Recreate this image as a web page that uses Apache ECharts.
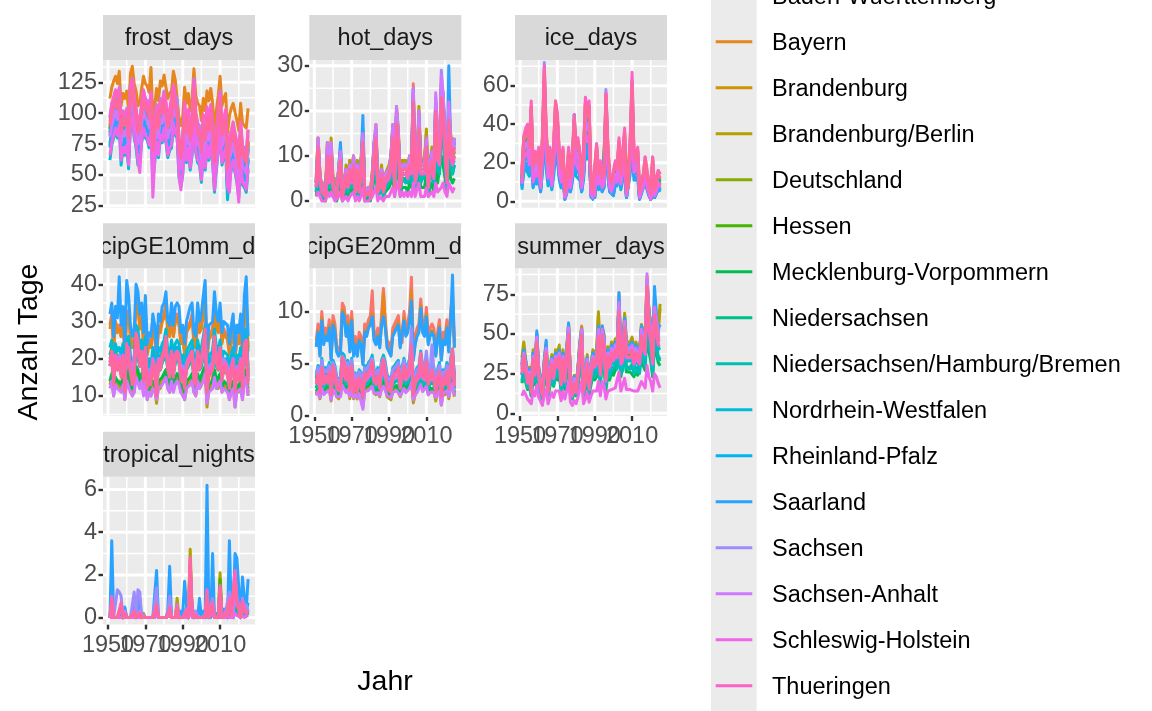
<!DOCTYPE html>
<html>
<head>
<meta charset="utf-8">
<title>Anzahl Tage je Klimaindikator</title>
<script src="https://cdn.jsdelivr.net/npm/echarts@6/dist/echarts.min.js"></script>
<style>
  html, body { margin: 0; padding: 0; background: #ffffff; }
  #chart { width: 1152px; height: 711px; }
</style>
</head>
<body>
<div id="chart"></div>
<script>
const regions = ['Baden-Wuerttemberg', 'Bayern', 'Brandenburg', 'Brandenburg/Berlin', 'Deutschland', 'Hessen',
  'Mecklenburg-Vorpommern', 'Niedersachsen', 'Niedersachsen/Hamburg/Bremen', 'Nordrhein-Westfalen',
  'Rheinland-Pfalz', 'Saarland', 'Sachsen', 'Sachsen-Anhalt', 'Schleswig-Holstein', 'Thueringen',
  'Thueringen/Sachsen-Anhalt'];

const years = [1951,1952,1953,1954,1955,1956,1957,1958,1959,1960,1961,1962,1963,1964,1965,1966,1967,1968,1969,1970,
  1971,1972,1973,1974,1975,1976,1977,1978,1979,1980,1981,1982,1983,1984,1985,1986,1987,1988,1989,1990,
  1991,1992,1993,1994,1995,1996,1997,1998,1999,2000,2001,2002,2003,2004,2005,2006,2007,2008,2009,2010,
  2011,2012,2013,2014,2015,2016,2017,2018,2019,2020,2021,2022,2023,2024,2025];

const panelNames = ['frost_days', 'hot_days', 'ice_days', 'precipGE10mm_days', 'precipGE20mm_days', 'summer_days', 'tropical_nights'];

const xLimits = [1947.3, 2028.7];
const xMajor = [1950, 1970, 1990, 2010];
const xMinor = [1960, 1980, 2000, 2020];

const yLimits = [[23.5, 143.1], [-1.5, 31.3], [-3.3, 73.3], [4.6, 44.3], [-0.05, 14.15], [-1.7, 91.4], [-0.32, 6.6]];
const yMajor = [[25, 50, 75, 100, 125], [0, 10, 20, 30], [0, 20, 40, 60], [10, 20, 30, 40], [0, 5, 10], [0, 25, 50, 75], [0, 2, 4, 6]];
const yMinor = [[37.5, 62.5, 87.5, 112.5, 137.5], [5, 15, 25], [10, 30, 50, 70], [5, 15, 25, 35], [2.5, 7.5, 12.5], [12.5, 37.5, 62.5, 87.5], [1, 3, 5]];

// one row per region, same order as regions, 1951..2025
const frostDays = [
  [93,104,107,113,109,117,87,99,93,101,83,118,125,108,100,87,90,103,115,109,106,101,111,74,88,102,93,108,104,114,104,92,97,100,118,110,108,77,68,79,104,89,97,82,95,123,96,89,85,72,94,82,99,91,103,88,63,82,96,112,86,92,97,58,77,83,88,80,72,61,88,70,68,64,82],
  [112,121,126,130,124,134,106,116,112,118,102,132,138,124,118,106,108,120,130,124,122,117,137,95,106,120,110,126,122,131,121,112,116,118,134,127,126,96,90,98,121,108,116,102,112,136,114,108,106,94,112,102,118,110,120,108,86,102,114,130,106,112,116,84,98,104,108,101,94,86,108,92,90,88,104],
  [90,98,105,112,104,114,84,94,88,96,80,116,121,103,95,84,85,100,110,104,101,95,106,69,83,99,87,104,101,110,99,88,93,95,114,106,104,71,63,73,100,84,94,78,89,120,92,83,81,67,90,77,96,85,98,83,59,77,92,111,81,88,94,53,71,77,84,75,67,55,83,65,63,59,77],
  [88,97,104,110,103,112,83,93,88,95,79,114,119,102,94,83,84,99,109,103,100,94,105,68,82,98,86,103,99,108,98,87,92,94,113,105,103,70,62,72,99,83,93,77,88,119,91,82,80,66,89,76,95,84,97,82,58,76,91,109,80,87,93,52,70,76,83,74,66,54,82,64,62,58,76],
  [85,95,100,106,100,108,80,90,86,92,76,110,116,100,92,80,82,96,106,100,98,92,104,66,80,95,84,100,96,106,96,84,90,92,110,102,100,68,60,70,96,80,90,74,86,116,88,80,78,64,86,74,92,82,94,80,56,74,88,106,78,84,90,50,68,74,80,72,64,52,80,62,60,56,74],
  [87,98,101,108,103,110,82,92,89,94,78,112,118,103,93,82,84,98,108,102,100,94,106,68,82,97,86,102,98,108,98,86,92,94,112,104,102,70,62,72,98,82,92,76,88,118,90,82,80,66,88,76,94,84,96,82,58,76,90,108,80,86,92,52,70,76,82,74,66,54,82,64,62,58,76],
  [84,92,99,104,97,107,77,88,83,90,73,108,115,97,89,77,79,94,104,98,95,89,101,63,77,92,81,98,94,104,94,81,88,90,108,100,98,65,57,67,93,77,87,71,83,114,85,77,75,61,83,71,90,79,91,77,53,71,86,104,75,81,88,47,65,71,78,69,61,49,77,59,57,53,71],
  [76,84,91,96,89,98,70,80,76,82,66,100,106,90,82,70,72,86,96,90,88,82,94,56,70,85,74,90,86,96,86,74,80,82,100,92,90,58,50,60,86,70,80,64,76,106,78,70,68,54,76,64,82,72,84,70,46,64,78,96,68,74,80,40,58,64,70,62,54,42,70,52,50,46,64],
  [74,83,90,95,88,97,69,79,75,81,65,99,105,89,81,69,71,85,95,89,87,81,93,55,69,84,73,89,85,95,85,73,79,81,99,91,89,57,49,59,85,69,79,63,75,105,77,69,67,53,75,63,81,71,83,69,45,63,77,95,67,73,79,39,57,63,69,61,53,41,69,51,49,45,63],
  [62,74,80,86,80,88,58,70,66,72,55,90,96,80,72,58,62,76,86,80,78,72,84,46,60,75,64,80,76,86,76,64,70,72,90,82,80,48,40,50,76,60,70,54,66,96,68,60,58,44,66,54,72,62,74,60,36,54,68,86,58,64,70,30,48,54,60,52,44,32,60,42,40,36,54],
  [82,94,98,104,99,106,79,88,85,90,74,108,114,98,90,78,80,94,104,98,96,90,102,64,78,93,82,98,94,104,94,82,88,90,108,100,98,66,58,68,94,78,88,72,84,114,86,78,76,62,84,72,90,80,92,78,54,72,86,104,76,82,88,48,66,72,78,70,62,50,78,60,58,54,72],
  [72,84,88,94,88,96,68,78,74,80,64,98,104,88,80,68,70,84,94,88,86,80,92,54,68,83,72,88,84,94,84,72,78,80,98,90,88,56,48,58,84,68,78,62,74,104,76,68,66,52,74,62,80,70,82,68,44,62,76,94,66,72,78,38,56,62,68,60,52,40,68,50,48,44,62],
  [97,107,113,118,112,121,92,102,98,104,88,122,128,112,104,92,94,108,118,112,110,104,116,78,92,107,96,112,108,118,108,96,102,104,122,114,112,80,72,82,108,92,102,86,98,128,100,92,90,76,98,86,104,94,106,92,68,86,100,118,90,96,102,62,80,86,92,84,76,64,92,74,72,68,86],
  [81,90,96,102,95,104,76,86,82,88,71,106,112,96,88,75,78,92,102,96,94,88,100,61,76,91,80,96,92,102,92,80,86,88,106,98,96,63,55,65,92,75,86,69,82,112,84,75,73,59,82,69,88,78,90,75,51,69,84,102,73,80,86,45,63,69,76,67,59,47,76,57,55,51,70],
  [66,76,82,88,82,90,62,72,68,74,58,92,98,82,74,62,52,78,88,82,80,74,86,32,62,77,66,82,78,88,78,66,72,74,92,84,82,50,38,52,78,62,72,56,68,98,70,62,60,46,68,56,74,64,76,62,38,56,70,88,60,66,72,40,36,56,62,54,46,28,62,44,42,38,56],
  [96,108,112,119,113,120,93,101,99,103,89,121,128,113,103,93,95,107,119,111,111,103,117,77,93,106,97,111,109,117,109,95,103,103,123,113,113,79,73,81,109,91,103,85,99,127,101,91,91,75,99,85,105,93,107,91,69,85,101,117,91,95,103,61,81,85,93,83,77,63,93,73,73,67,87],
  [90,100,104,110,104,112,84,94,90,96,80,114,120,104,96,84,86,100,110,104,102,96,108,70,84,99,88,104,100,110,100,88,94,96,114,106,104,72,64,74,100,84,94,78,90,120,92,84,82,68,90,78,96,86,98,84,60,78,92,110,82,88,94,54,72,78,84,76,68,56,84,66,64,60,78]
];

const hotDays = [
  [5,14,6,3,4,2,12,6,12,4,5,2,7,11,2,5,7,5,9,6,10,3,9,3,9,15,2,2,3,2,6,12,16,3,5,7,3,6,6,7,10,16,5,20,15,4,8,8,8,7,10,8,26,6,8,18,9,8,8,13,5,9,11,7,22,12,11,26,23,14,6,21,14,11,14],
  [3,11,5,2,2,1,10,5,10,3,4,1,6,9,1,3,6,4,7,5,8,2,7,2,7,12,1,1,2,1,5,10,13,2,3,6,2,5,5,6,8,13,4,16,12,3,7,7,7,6,8,7,22,5,7,15,7,7,7,11,4,7,9,6,19,10,9,20,18,11,5,18,11,9,12],
  [4,13,6,3,3,2,13,6,12,4,4,2,7,11,2,4,7,4,9,6,10,3,8,3,8,15,2,1,3,2,6,12,16,3,4,7,3,6,6,7,10,16,4,20,15,4,9,8,8,7,10,8,20,6,8,20,8,8,8,15,4,9,11,7,19,12,11,25,21,14,6,18,14,11,13],
  [5,14,6,3,3,2,13,6,14,5,5,2,7,12,2,4,8,5,9,6,10,3,9,3,9,16,2,2,3,2,6,13,17,3,5,8,3,6,6,8,10,17,5,21,16,4,9,9,9,7,10,9,21,6,9,21,9,9,9,16,5,9,12,7,20,13,12,26,22,15,6,19,15,12,14],
  [3,10,4,2,2,1,9,4,9,3,3,1,5,8,1,3,5,3,6,4,7,2,6,2,6,11,1,1,2,1,4,9,12,2,3,5,2,4,4,5,7,12,3,15,11,3,6,6,6,5,7,6,19,4,6,14,6,6,6,10,3,6,8,5,17,9,8,20,17,10,4,16,10,8,10],
  [4,11,4,2,2,1,10,4,10,3,3,1,6,9,1,3,6,3,7,4,8,2,7,2,7,13,1,1,2,1,4,10,14,2,3,5,2,4,4,6,8,13,3,17,12,3,7,7,7,6,8,7,22,4,7,16,7,7,7,11,3,7,9,6,20,10,9,22,20,11,4,18,11,9,11],
  [1,5,2,1,1,0,5,2,5,1,1,0,2,4,0,1,3,1,3,2,4,1,3,1,3,6,0,0,1,0,2,5,6,1,1,3,1,2,2,3,4,6,1,8,6,1,3,3,3,2,4,3,9,2,3,8,3,3,3,6,1,3,4,2,8,4,4,10,8,5,2,8,5,4,5],
  [2,8,3,1,1,1,7,3,7,2,2,1,4,6,1,2,4,2,5,3,5,1,5,1,5,9,1,1,1,1,3,7,10,1,2,4,1,3,3,4,5,9,2,12,9,2,5,5,5,4,5,5,15,3,5,11,5,5,5,8,2,5,6,4,13,7,6,16,14,8,3,13,8,6,8],
  [2,8,3,1,1,1,7,3,7,2,2,1,4,6,1,2,4,2,4,3,5,1,5,1,4,8,1,1,1,1,3,7,9,1,2,4,1,3,3,4,5,9,2,11,8,2,5,5,4,4,5,4,14,3,5,11,4,5,5,8,2,5,6,4,13,7,6,15,13,8,3,12,8,6,8],
  [3,10,4,2,2,1,8,4,8,3,3,1,5,8,1,3,5,3,6,4,7,2,6,2,6,11,1,1,2,1,4,9,11,2,3,5,2,4,4,5,6,11,3,14,10,3,6,6,6,5,7,6,18,4,6,13,6,6,6,9,3,6,8,5,16,9,8,18,17,10,4,15,9,8,9],
  [4,12,5,3,3,1,11,5,11,4,4,1,6,10,1,4,6,4,8,5,9,3,8,3,8,14,1,1,3,1,5,11,15,3,4,6,3,5,5,6,9,15,4,19,14,4,8,8,8,6,9,8,24,5,8,18,8,8,8,12,4,8,10,6,21,11,10,24,22,13,5,20,13,10,13],
  [4,12,5,3,3,1,11,5,11,4,4,1,7,13,1,4,7,4,8,5,9,3,8,3,8,19,1,1,3,1,5,13,14,3,4,7,3,5,5,7,9,16,4,19,14,4,8,8,8,7,9,8,25,5,8,19,8,8,8,13,4,8,11,7,23,12,11,25,24,13,5,30,13,11,14],
  [4,13,5,3,3,1,12,5,12,4,4,1,6,10,1,4,7,4,8,5,9,3,8,3,8,14,1,1,3,1,5,12,16,3,4,7,3,5,5,7,9,16,4,20,14,4,8,8,8,7,9,8,24,5,8,18,8,8,8,13,4,8,10,7,22,12,10,29,22,13,5,21,13,10,13],
  [4,14,6,3,3,1,13,6,13,4,4,1,7,11,1,4,7,4,8,6,10,3,8,3,8,15,1,1,3,1,6,13,17,3,4,7,3,6,6,7,10,17,4,21,15,4,8,8,8,7,10,8,25,6,8,20,8,8,8,14,4,8,11,7,24,13,11,28,24,14,6,22,14,11,14],
  [1,2,1,0,0,0,2,1,2,1,0,0,1,2,0,0,1,0,1,1,2,0,1,0,1,3,0,0,0,0,1,2,3,0,1,1,0,1,1,1,2,3,1,4,3,1,2,1,2,1,2,1,4,1,1,4,1,1,1,3,1,1,2,1,4,2,2,3,4,2,1,4,3,2,3],
  [3,10,4,2,2,1,9,4,9,3,3,1,5,8,1,3,5,3,6,4,7,2,6,2,6,11,1,1,2,1,4,9,12,2,3,5,2,4,4,5,7,12,3,15,11,3,6,6,6,5,7,6,19,4,6,14,6,6,6,10,3,6,8,5,17,9,8,21,17,10,4,16,10,8,10],
  [4,12,5,2,2,1,10,5,10,3,3,1,6,9,1,3,6,3,7,5,8,2,7,2,7,13,1,1,2,1,5,10,14,2,3,6,2,5,5,6,8,14,3,17,13,3,7,7,7,6,8,7,22,5,7,16,7,7,7,12,3,7,9,6,20,10,9,23,20,12,5,18,12,9,12]
];

const iceDays = [
  [13,27,30,34,25,44,15,20,18,24,10,28,60,32,17,23,12,25,43,38,21,15,23,4,9,23,11,19,36,25,27,21,10,21,45,38,42,6,4,6,25,13,17,11,13,50,25,10,9,8,17,15,27,13,21,31,5,7,27,54,21,19,23,4,9,11,19,13,8,3,19,6,9,13,11],
  [16,33,36,39,29,49,18,25,22,27,14,33,63,36,20,27,16,29,49,43,25,18,27,7,12,27,14,23,40,29,31,25,14,25,51,45,49,9,7,8,29,16,20,14,16,56,29,14,12,10,20,18,31,16,25,36,8,9,31,58,25,23,27,7,12,14,23,16,10,6,23,8,12,16,14],
  [11,27,30,33,24,43,13,20,16,22,9,27,64,30,15,22,11,24,43,38,20,13,22,3,7,22,9,18,39,24,26,20,9,20,45,39,43,5,3,4,24,11,15,9,11,51,24,9,7,6,16,13,26,11,20,30,4,5,26,56,20,18,22,3,7,9,18,11,6,2,18,4,7,11,9],
  [11,26,29,32,23,42,13,19,16,21,9,26,63,29,15,21,11,23,42,37,19,13,21,3,7,21,9,17,38,23,25,19,9,19,44,38,42,5,3,4,23,11,15,9,11,50,23,9,7,6,15,13,25,11,19,29,4,5,25,55,19,17,21,3,7,9,17,11,6,2,17,4,7,11,9],
  [10,25,28,30,22,40,12,18,15,20,8,25,60,28,14,20,10,22,40,35,18,12,20,2,6,20,8,16,34,22,24,18,8,18,42,36,40,4,2,3,22,10,14,8,10,48,22,8,6,5,14,12,24,10,18,28,3,4,24,52,18,16,20,2,6,8,16,10,5,1,16,3,6,10,8],
  [9,24,27,28,21,38,11,17,14,19,8,24,57,27,13,19,9,21,38,33,17,11,19,2,6,19,8,15,32,21,23,17,8,17,40,34,38,4,2,3,21,9,13,8,9,46,21,8,6,5,13,11,23,9,17,27,3,4,23,49,17,15,19,2,6,8,15,9,5,1,15,3,6,9,8],
  [12,27,30,32,24,42,14,20,17,22,10,27,62,30,16,22,12,24,42,37,20,14,22,4,8,22,10,18,45,24,26,20,10,20,44,38,42,6,4,5,24,12,16,10,12,50,24,10,8,7,16,14,26,12,20,30,5,6,26,54,20,18,22,4,8,10,18,12,7,3,18,5,8,12,10],
  [8,20,22,24,18,32,10,14,12,16,6,20,48,22,11,16,8,18,32,28,14,10,16,2,5,16,6,13,27,18,19,14,6,14,34,29,32,3,2,2,18,8,11,6,8,38,18,6,5,4,11,10,19,8,14,22,2,3,19,42,14,13,16,2,5,6,13,8,4,1,13,2,5,8,6],
  [8,20,22,24,18,32,10,14,12,16,6,20,48,22,11,16,8,17,32,28,14,10,16,2,5,16,6,13,27,18,19,14,6,14,33,29,32,3,2,2,17,8,11,6,8,38,18,6,5,4,11,10,19,8,14,22,2,3,19,41,14,13,16,2,5,6,13,8,4,1,13,2,5,8,6],
  [6,15,17,18,13,24,7,11,9,12,5,15,36,17,8,12,6,13,24,21,11,7,12,1,4,12,5,10,20,13,14,11,5,11,25,22,24,2,1,2,13,6,8,5,6,29,13,5,4,3,8,7,14,6,11,17,2,2,14,31,11,10,12,1,4,5,10,6,3,1,10,2,4,6,5],
  [8,21,24,26,19,34,10,15,13,17,7,21,51,24,12,17,8,19,34,30,15,10,17,2,5,17,7,14,29,19,20,15,7,15,36,31,34,3,2,3,19,8,12,7,8,41,19,7,5,4,12,10,20,8,15,24,3,3,20,44,15,14,17,2,5,7,14,8,4,1,14,3,5,8,7],
  [7,17,20,21,15,28,8,13,10,14,5,17,42,20,10,14,7,15,28,24,13,8,14,1,4,14,5,11,24,15,17,13,5,13,29,25,28,3,1,2,15,7,10,5,7,34,15,5,4,3,10,8,17,7,13,20,2,3,17,36,13,11,14,1,4,5,11,7,3,1,11,2,4,7,5],
  [15,32,35,38,28,49,17,24,20,26,12,32,72,35,19,26,14,28,49,43,24,17,26,5,10,26,12,21,42,28,31,24,12,24,51,44,49,8,5,6,28,14,19,12,14,58,28,12,10,9,19,17,31,14,24,35,6,8,31,63,24,21,26,5,10,12,21,14,9,4,21,6,10,14,12],
  [10,26,29,31,22,41,12,19,15,21,8,26,62,29,14,21,10,23,41,36,18,12,21,2,6,21,8,16,36,23,25,18,8,18,43,37,41,4,2,3,22,10,14,8,10,49,22,8,6,5,14,12,25,10,18,29,3,4,25,54,18,16,21,2,6,8,16,10,5,1,16,3,6,10,8],
  [9,22,24,26,19,34,10,15,13,17,7,22,52,24,12,17,8,19,34,30,15,10,17,2,5,17,7,14,34,19,20,15,7,15,36,31,34,3,2,3,19,9,12,7,9,41,19,7,5,4,12,10,20,9,15,24,3,3,20,44,15,14,17,2,5,7,14,8,4,1,14,3,5,9,7],
  [16,34,38,40,30,52,18,26,22,28,14,34,70,38,21,28,16,30,52,46,26,18,28,6,11,28,14,23,45,30,33,26,14,26,54,47,52,9,6,7,30,16,21,14,16,56,30,14,11,10,21,18,33,16,26,38,7,9,33,67,26,23,28,6,11,14,23,16,10,5,23,8,11,16,14],
  [14,32,35,38,28,49,17,24,20,26,12,32,68,35,19,26,14,28,52,43,24,17,26,5,10,26,12,21,42,28,31,24,12,24,51,44,50,8,5,6,28,14,19,12,14,55,28,12,10,9,19,17,31,14,24,35,6,8,31,62,24,21,26,5,10,12,21,14,9,4,21,6,10,14,12]
];

const precipGE10mmDays = [
  [29,32,23,30,28,29,26,30,22,32,33,26,23,25,36,35,29,32,25,33,22,25,23,29,26,20,29,28,30,32,35,28,26,32,26,30,32,30,25,26,22,28,29,30,32,25,23,32,28,29,33,36,20,26,26,28,35,29,28,32,25,28,28,26,22,26,29,20,26,25,29,22,33,35,23],
  [28,31,23,30,27,28,26,30,21,31,32,26,23,24,35,34,28,31,24,32,21,24,23,28,26,20,28,27,30,31,34,27,26,31,26,30,31,29,24,26,21,27,28,29,31,24,23,31,27,28,32,35,20,25,25,27,34,28,27,31,24,27,27,25,21,25,28,20,25,24,28,21,32,34,22],
  [14,15,11,14,13,14,12,15,10,15,16,12,11,12,17,17,14,15,12,16,10,12,11,14,13,10,14,13,15,15,17,13,12,15,12,15,15,15,12,12,10,13,14,15,15,12,11,15,13,14,16,17,10,12,13,13,17,14,13,15,12,13,13,12,10,13,14,10,12,12,14,10,16,17,11],
  [13,15,10,14,13,13,12,14,9,15,15,12,10,11,17,16,13,15,11,15,9,11,10,13,12,8,13,12,14,15,16,12,11,15,12,14,15,14,11,12,9,12,13,14,15,11,10,15,12,13,15,17,7,12,12,12,16,13,12,15,11,12,12,12,9,12,13,7,12,11,13,9,15,16,10],
  [20,22,16,21,19,20,18,21,15,22,23,18,16,17,25,24,20,22,17,23,15,17,16,20,18,14,20,19,21,22,24,19,18,22,18,21,22,21,17,18,15,19,20,21,22,17,16,22,19,20,23,25,14,18,18,19,24,20,19,22,17,19,19,18,15,18,20,14,18,17,20,15,23,24,16],
  [21,23,17,22,20,21,19,22,16,23,24,19,17,18,26,25,21,23,18,24,16,18,17,21,19,15,21,20,22,23,25,20,19,23,19,22,23,22,18,19,16,20,21,22,23,18,17,23,20,21,24,26,15,19,19,20,25,21,20,23,18,20,20,19,16,19,21,15,19,18,21,16,24,25,17],
  [14,16,12,15,14,14,13,15,11,16,17,13,12,12,18,17,14,16,12,17,11,12,12,14,13,10,14,14,15,16,17,14,13,16,13,15,16,15,12,13,11,14,14,15,16,12,12,16,14,14,17,18,10,13,13,14,17,14,14,16,12,14,14,13,11,13,14,10,13,12,14,11,17,17,12],
  [18,20,14,19,17,18,16,19,14,20,21,16,14,15,23,22,18,20,15,21,14,15,14,18,16,13,18,17,19,20,22,17,16,20,16,19,20,19,15,16,14,17,18,19,20,15,14,20,17,18,21,23,13,16,16,17,22,18,17,20,15,17,17,16,14,16,18,13,16,15,18,14,21,22,14],
  [18,20,15,19,17,18,16,19,13,20,21,16,15,15,22,22,18,20,15,21,13,15,15,18,16,12,18,17,19,20,22,17,16,20,16,19,20,19,15,16,13,17,18,19,20,15,15,20,17,18,21,22,13,16,16,17,22,18,17,20,15,17,17,16,13,16,18,13,16,15,18,13,21,22,15],
  [23,25,18,24,22,23,21,24,17,25,26,21,18,20,29,28,23,25,20,26,17,20,18,23,21,16,23,22,24,25,28,22,21,25,21,24,25,24,20,21,17,22,23,24,25,20,18,25,22,23,26,29,16,21,21,22,28,23,22,25,20,22,22,21,17,21,23,16,21,20,23,17,26,28,18],
  [21,22,17,21,20,20,18,22,15,23,24,18,16,18,26,24,20,23,17,23,15,18,16,21,18,14,21,19,21,23,24,19,18,23,18,21,23,21,17,19,15,19,21,21,23,17,16,23,19,21,23,26,14,18,19,19,25,20,19,22,17,19,20,18,15,18,21,14,18,17,21,15,24,24,16],
  [32,35,26,34,31,42,29,34,24,41,37,29,26,27,40,38,32,35,27,37,24,27,26,32,29,22,32,30,34,35,38,30,29,35,29,34,35,34,27,29,24,30,32,34,35,27,26,35,30,32,37,41,22,29,29,30,38,32,30,35,27,30,30,29,24,29,32,22,29,27,32,24,37,42,26],
  [20,21,17,20,19,21,19,20,15,21,22,18,17,17,24,24,21,21,17,22,16,17,16,20,18,15,20,19,20,22,23,19,18,21,18,21,22,21,17,18,16,19,20,21,22,18,17,21,19,20,23,26,15,18,18,19,24,21,19,23,17,20,19,18,15,18,20,14,18,17,20,15,22,23,16],
  [12,14,10,13,12,12,11,13,9,14,14,11,10,11,15,15,12,14,10,14,9,11,10,12,11,9,12,12,13,14,15,12,11,14,11,13,14,13,11,11,9,12,12,13,14,11,10,14,12,12,14,16,8,11,11,12,15,12,12,14,11,12,12,11,9,11,12,7,11,11,12,9,14,15,10],
  [19,21,15,20,18,19,17,20,14,21,22,17,15,16,24,23,19,21,16,22,14,16,15,19,17,13,19,18,20,21,23,18,17,21,17,20,21,20,16,17,14,18,19,20,21,16,15,21,18,19,22,24,13,17,17,18,23,19,18,21,16,18,18,17,14,17,19,13,17,16,19,14,22,23,15],
  [19,22,15,21,18,20,17,21,14,22,23,17,15,16,26,24,19,22,16,23,14,16,15,20,17,13,20,18,21,22,24,18,17,22,17,21,22,21,16,17,14,18,20,21,22,16,15,22,18,20,23,26,13,17,17,18,25,20,18,22,16,18,19,17,14,17,20,13,17,16,20,14,23,25,15],
  [18,22,13,20,17,19,15,20,11,24,24,16,13,14,27,25,18,22,14,23,12,14,13,19,16,10,19,17,20,22,26,17,15,22,15,20,22,20,14,15,12,17,19,20,22,14,13,22,17,19,24,28,11,15,16,17,26,19,17,23,14,17,18,15,12,16,19,11,16,14,19,12,24,25,13]
];

const precipGE20mmDays = [
  [7.2,8.8,6.4,10.0,7.4,8.4,7.8,9.2,5.8,9.6,8.8,6.6,6.2,6.8,10.8,10.4,8.4,9.6,6.6,10.0,6.4,7.6,6.2,8.0,7.6,5.4,8.8,8.4,9.2,9.6,12.0,8.0,7.6,8.4,7.2,9.6,12.2,9.2,7.2,7.0,6.2,8.4,8.8,9.2,9.6,7.2,7.0,10.0,8.4,8.8,10.0,13.3,5.8,7.6,8.4,8.8,11.2,8.8,8.4,10.4,7.6,8.4,8.8,8.4,6.2,8.0,9.2,5.8,8.0,7.6,9.2,6.8,10.0,11.6,7.0],
  [6.8,8.2,5.8,9.4,7.0,7.8,7.4,8.6,5.4,9.0,8.2,6.2,5.8,6.2,10.2,9.8,7.8,9.0,6.2,9.4,5.8,7.0,5.8,7.4,7.0,5.0,8.2,7.8,8.6,9.0,9.8,7.4,7.0,7.8,6.6,9.0,11.8,8.6,6.6,6.6,5.8,7.8,8.2,8.6,9.0,6.6,6.6,9.4,7.8,8.2,9.4,12.0,5.4,7.0,7.8,8.2,10.6,8.2,7.8,9.8,7.0,7.8,8.2,7.8,5.8,7.4,8.6,5.4,7.4,7.0,8.6,6.2,9.4,10.8,6.6],
  [2.1,2.5,1.8,2.9,2.2,2.4,2.3,2.6,1.7,2.8,2.5,1.9,1.8,1.9,3.1,3.0,2.4,2.8,1.9,2.9,1.8,2.2,1.8,2.3,2.2,1.6,2.5,2.4,2.6,2.8,3.0,2.3,2.2,2.4,2.0,2.8,3.0,2.6,2.0,2.0,1.8,2.4,2.5,2.6,2.8,2.0,2.0,2.9,2.4,2.5,2.9,3.5,1.7,2.2,2.4,2.5,3.2,2.5,2.4,3.0,2.2,2.4,2.5,2.4,1.8,2.3,2.6,1.7,2.3,2.2,2.6,1.9,2.9,3.4,2.0],
  [2.0,2.4,1.6,2.8,2.1,2.3,2.2,2.6,1.4,2.7,2.4,1.8,1.6,1.7,3.0,2.9,2.3,2.7,1.6,2.8,1.6,2.0,1.6,2.2,2.1,0.8,2.4,2.3,2.6,2.7,2.9,2.2,2.0,2.3,1.8,2.7,2.9,2.6,1.8,1.7,1.5,2.3,2.4,2.6,2.7,1.8,1.7,2.8,2.3,2.4,2.8,3.4,1.2,2.0,2.3,2.4,3.1,2.4,2.3,2.9,2.0,2.3,2.4,2.3,1.4,2.2,2.6,1.0,2.2,2.0,2.6,1.6,2.8,3.2,1.8],
  [3.5,4.2,3.0,4.8,3.6,4.0,3.8,4.4,2.8,4.6,4.2,3.2,3.0,3.2,5.2,5.0,4.0,4.6,3.2,4.8,3.0,3.6,3.0,3.8,3.6,2.6,4.2,4.0,4.4,4.6,5.0,3.8,3.6,4.0,3.4,4.6,5.0,4.4,3.4,3.4,3.0,4.0,4.2,4.4,4.6,3.4,3.4,4.8,4.0,4.2,4.8,5.8,2.8,3.6,4.0,4.2,5.4,4.2,4.0,5.0,3.6,4.0,4.2,4.0,3.0,3.8,4.4,2.8,3.8,3.6,4.4,3.2,4.8,5.6,3.4],
  [3.6,4.3,3.1,4.7,3.5,4.1,3.9,4.5,2.7,4.7,4.3,3.1,3.1,3.3,5.3,5.1,3.9,4.7,3.1,4.9,2.9,3.7,3.1,3.9,3.5,2.5,4.3,4.1,4.5,4.7,5.1,3.9,3.5,4.1,3.3,4.7,5.1,4.5,3.3,3.5,2.9,4.1,4.3,4.5,4.7,3.3,3.5,4.9,4.1,4.3,4.9,5.9,2.7,3.7,4.1,4.3,5.5,4.3,4.1,5.1,3.7,4.1,4.3,4.1,2.9,3.9,4.5,2.7,3.9,3.7,4.5,3.3,4.9,5.7,3.5],
  [2.3,2.7,2.0,3.1,2.3,2.6,2.5,2.9,1.8,3.0,2.7,2.1,2.0,2.1,3.4,3.3,2.6,3.0,2.1,3.1,2.0,2.3,2.0,2.5,2.3,1.7,2.7,2.6,2.9,3.0,3.3,2.5,2.3,2.6,2.2,3.0,3.3,2.9,2.2,2.2,2.0,2.6,2.7,2.9,3.0,2.2,2.2,3.1,2.6,2.7,3.1,3.8,1.8,2.3,2.6,2.7,3.5,2.7,2.6,3.3,2.3,2.6,2.7,2.6,2.0,2.5,2.9,1.8,2.5,2.3,2.9,2.1,3.1,3.6,2.2],
  [2.6,3.2,2.3,3.6,2.7,3.0,2.9,3.3,2.1,3.5,3.2,2.4,2.3,2.4,3.9,3.8,3.0,3.5,2.4,3.6,2.3,2.7,2.3,2.9,2.7,2.0,3.2,3.0,3.3,3.5,3.8,2.9,2.7,3.0,2.6,3.5,3.8,3.3,2.6,2.6,2.3,3.0,3.2,3.3,3.5,2.6,2.6,3.6,3.0,3.2,3.6,4.4,2.1,2.7,3.0,3.2,4.1,3.2,3.0,3.8,2.7,3.0,3.2,3.0,2.3,2.9,3.3,2.1,2.9,2.7,3.3,2.4,3.6,4.2,2.6],
  [2.7,3.2,2.3,3.7,2.7,3.0,2.9,3.3,2.1,3.5,3.2,2.4,2.3,2.4,4.0,3.8,3.0,3.5,2.4,3.6,2.3,2.7,2.3,2.9,2.7,2.0,3.2,3.0,3.3,3.5,3.8,2.9,2.7,3.0,2.6,3.5,3.8,3.3,2.6,2.6,2.3,3.0,3.2,3.3,3.5,2.6,2.6,3.6,3.0,3.2,3.6,4.4,2.1,2.7,3.0,3.2,4.1,3.2,3.0,3.8,2.7,3.0,3.2,3.0,2.3,2.9,3.3,2.1,2.9,2.7,3.3,2.4,3.6,4.3,2.6],
  [4.0,4.8,3.4,5.5,4.1,4.6,4.4,5.1,3.2,5.3,4.8,3.7,3.4,3.7,6.0,5.8,4.6,5.3,3.7,5.5,3.4,4.1,3.4,4.4,4.1,3.0,4.8,4.6,5.1,5.3,5.8,4.4,4.1,4.6,3.9,5.3,5.8,5.1,3.9,3.9,3.4,4.6,4.8,5.1,5.3,3.9,3.9,5.5,4.6,4.8,5.5,6.7,3.2,4.1,4.6,4.8,6.2,4.8,4.6,5.8,4.1,4.6,4.8,4.6,3.4,4.4,5.1,3.2,4.4,4.1,5.1,3.7,5.5,6.4,3.9],
  [3.7,4.4,3.2,5.0,3.8,4.2,4.0,4.6,2.9,4.8,4.4,3.4,3.2,3.4,5.5,5.3,4.2,4.8,3.4,5.0,3.2,3.8,3.2,4.0,3.8,2.7,4.4,4.2,4.6,4.8,5.3,4.0,3.8,4.2,3.6,4.8,5.3,4.6,3.6,3.6,3.2,4.2,4.4,4.6,4.8,3.6,3.6,5.0,4.2,4.4,5.0,6.1,2.9,3.8,4.2,4.4,5.7,4.4,4.2,5.3,3.8,4.2,4.4,4.2,3.2,4.0,4.6,2.9,4.0,3.8,4.6,3.4,5.0,5.9,3.6],
  [6.6,8.0,5.7,9.1,6.8,7.6,7.2,8.4,5.3,8.7,8.0,6.1,5.7,6.1,9.9,9.5,7.6,8.7,6.1,9.1,5.7,6.8,5.7,7.2,6.8,4.9,8.0,7.6,8.4,8.7,9.5,7.2,6.8,7.6,6.5,8.7,9.5,8.4,6.5,6.5,5.7,7.6,8.0,8.4,8.7,6.5,6.5,9.1,7.6,8.0,9.1,11.0,5.3,6.8,7.6,8.0,10.3,8.0,7.6,9.5,6.8,7.6,8.0,7.6,5.7,7.2,8.4,5.3,7.2,6.8,8.4,6.1,9.1,13.5,6.5],
  [3.9,4.6,3.3,5.3,4.0,4.4,4.2,4.8,3.1,5.1,4.6,3.5,3.3,3.5,5.7,5.5,4.4,5.1,3.5,5.3,3.3,4.0,3.3,4.2,4.0,2.9,4.6,4.4,4.8,5.1,5.5,4.2,4.0,4.4,3.7,5.1,5.5,4.8,3.7,3.7,3.3,4.4,4.6,4.8,5.1,3.7,3.7,5.3,4.4,4.6,5.3,8.4,3.1,4.0,4.4,4.6,5.9,4.6,4.4,6.2,4.0,4.4,6.8,4.4,3.3,4.2,4.8,3.1,4.2,4.0,4.8,3.5,5.3,6.2,3.7],
  [1.9,2.3,1.7,2.6,2.0,2.2,2.1,2.4,1.5,2.5,2.3,1.8,1.7,1.8,2.9,2.8,2.2,2.5,1.8,2.6,1.7,2.0,1.7,2.1,2.0,0.6,2.3,2.2,2.4,2.5,2.8,2.1,2.0,2.2,1.9,2.5,2.8,2.4,1.9,1.9,1.7,2.2,2.3,2.4,2.5,1.9,1.9,2.6,2.2,2.3,2.6,3.2,1.5,2.0,2.2,2.3,3.0,2.3,2.2,2.8,2.0,2.2,2.3,2.2,1.7,2.1,2.4,1.0,2.1,2.0,2.4,1.8,2.6,3.1,1.9],
  [3.0,3.6,2.6,4.1,3.1,3.4,3.2,3.7,2.4,3.9,3.6,2.7,2.6,2.7,4.4,4.3,3.4,3.9,2.7,4.1,2.6,3.1,2.6,3.2,3.1,2.2,3.6,3.4,3.7,3.9,4.3,3.2,3.1,3.4,2.9,3.9,4.3,3.7,2.9,2.9,2.6,3.4,3.6,3.7,3.9,2.9,2.9,4.1,3.4,3.6,4.1,4.9,2.4,3.1,3.4,3.6,4.6,3.6,3.4,4.3,3.1,3.4,3.6,3.4,2.6,3.2,3.7,2.4,3.2,3.1,3.7,2.7,4.1,4.8,2.9],
  [3.3,4.0,2.9,4.6,3.4,3.8,3.6,4.2,2.7,4.4,4.0,3.0,2.9,3.0,4.9,4.8,3.8,4.4,3.0,4.6,2.9,3.4,2.9,3.6,3.4,2.5,4.0,3.8,4.2,4.4,4.8,3.6,3.4,3.8,3.2,4.4,4.8,4.2,3.2,3.2,2.9,3.8,4.0,4.2,4.4,3.2,3.2,4.6,3.8,4.0,4.6,5.5,2.7,3.4,3.8,4.0,5.1,4.0,3.8,4.8,3.4,3.8,4.0,3.8,2.9,3.6,4.2,2.7,3.6,3.4,4.2,3.0,4.6,5.3,3.2],
  [3.0,4.0,2.2,4.6,3.0,3.6,3.2,4.2,2.0,4.8,4.0,2.6,2.4,2.6,5.6,5.0,3.4,4.6,2.4,4.8,2.2,3.0,2.2,3.6,3.0,1.8,4.0,3.6,4.2,4.4,5.2,3.4,3.0,3.8,2.6,4.6,5.4,4.2,2.6,2.6,2.2,3.6,4.0,4.2,4.6,2.6,2.6,4.8,3.6,4.0,4.8,6.8,2.0,3.0,3.6,4.0,6.0,3.8,3.6,5.2,3.0,3.6,4.4,3.6,2.2,3.2,4.2,1.8,3.2,3.0,4.2,2.6,4.8,6.4,2.8]
];

const summerDays = [
  [31,40,33,25,28,18,38,30,50,28,28,15,33,43,18,28,35,28,38,35,40,23,38,25,40,54,20,15,23,18,28,43,55,18,25,35,20,30,38,35,38,55,30,55,48,25,40,35,43,40,45,43,76,38,40,60,43,43,43,45,38,43,40,38,55,50,45,82,65,55,38,70,63,53,53],
  [24,30,26,18,22,13,30,24,38,22,22,11,25,33,14,22,27,22,28,27,31,18,29,19,31,40,16,12,18,14,22,33,42,14,20,28,16,24,29,28,30,42,24,40,36,20,31,28,33,32,36,34,62,30,32,46,34,34,33,36,30,34,32,30,44,38,36,62,50,42,30,54,50,42,42],
  [33,42,32,26,28,19,38,31,50,27,28,16,33,43,17,28,35,28,38,36,41,22,38,25,40,56,20,15,23,17,28,43,54,17,25,35,20,30,38,36,38,62,30,52,48,25,40,35,43,40,45,43,66,38,40,62,43,43,43,47,38,43,40,38,53,50,45,86,65,55,38,68,60,52,66],
  [35,45,34,27,29,20,40,32,46,29,29,17,34,45,18,29,37,29,40,38,43,23,40,26,42,56,21,16,24,18,29,45,54,18,26,37,21,31,40,38,40,64,31,54,50,26,42,37,45,42,47,45,68,39,42,63,45,45,45,48,39,45,42,39,56,52,47,84,66,56,39,70,62,54,69],
  [25,32,26,20,22,14,30,24,40,22,22,12,26,34,14,22,28,22,30,28,32,18,30,20,32,45,16,12,18,14,22,34,44,14,20,28,16,24,30,28,30,44,24,44,38,20,32,28,34,32,36,34,58,30,32,48,34,34,34,36,30,34,32,30,44,40,36,72,52,44,30,56,50,42,42],
  [28,35,29,22,24,15,33,26,44,24,24,13,29,37,15,24,31,24,33,31,35,20,33,22,35,50,18,13,20,15,24,37,48,15,22,31,18,26,33,31,33,48,26,48,42,22,35,31,37,35,40,37,64,33,35,53,37,37,37,40,33,37,35,33,48,44,40,76,57,48,33,62,55,46,46],
  [19,24,20,15,17,11,23,18,30,17,17,9,20,26,11,17,21,17,23,21,24,14,23,15,24,34,12,9,14,11,17,26,33,11,15,21,12,18,23,21,23,33,18,33,29,15,24,21,26,24,27,26,44,23,24,36,26,26,26,27,23,26,24,23,33,30,27,54,39,33,23,42,38,32,30],
  [21,27,22,17,19,12,26,20,34,19,19,10,22,29,12,19,24,19,26,24,27,15,26,17,27,38,14,10,15,12,19,29,37,12,17,24,14,20,26,24,26,37,20,37,32,17,27,24,29,27,31,29,49,26,27,41,29,29,29,31,26,29,27,26,37,34,31,61,44,37,26,48,43,36,34],
  [20,26,21,16,18,12,25,20,33,18,18,10,22,28,12,18,23,18,25,23,27,15,25,17,27,37,13,10,15,12,18,28,36,12,17,23,13,20,25,23,25,36,20,36,31,17,27,23,28,27,30,28,48,25,27,40,28,28,28,30,25,28,27,25,36,33,30,60,43,36,25,46,42,35,33],
  [24,31,25,19,21,14,29,23,39,21,21,12,25,33,14,21,27,21,29,27,31,17,29,19,31,44,15,12,17,14,21,33,43,14,19,27,15,23,29,27,29,43,23,43,37,19,31,27,33,31,35,33,56,29,31,47,33,33,33,35,29,33,31,29,43,39,35,70,50,43,29,54,48,41,40],
  [30,38,31,24,26,17,36,29,48,26,26,14,31,41,17,26,34,26,36,34,38,22,36,24,38,54,19,14,22,17,26,41,53,17,24,34,19,29,36,34,36,53,29,53,46,24,38,34,41,38,43,41,70,36,38,58,41,41,41,43,36,41,38,36,53,48,43,80,62,53,36,67,60,50,50],
  [31,40,33,25,28,18,38,30,52,28,28,15,33,46,18,28,35,28,38,35,40,23,38,25,40,57,20,15,23,18,28,43,52,18,25,35,20,30,38,35,38,55,30,55,48,25,40,35,43,40,45,43,76,38,40,60,43,43,43,45,38,43,40,38,55,50,45,78,65,55,38,80,63,53,56],
  [29,37,30,23,25,16,35,28,46,25,25,14,30,39,16,25,32,25,35,32,37,21,35,23,37,52,18,14,21,16,25,39,51,16,23,32,18,28,35,32,35,51,28,51,44,23,37,32,39,37,41,39,67,35,37,55,39,39,39,41,35,39,37,35,51,46,41,83,60,51,35,64,58,48,48],
  [30,38,31,24,26,17,36,29,48,26,26,14,31,41,17,26,34,26,36,34,38,22,36,24,38,54,19,14,22,17,26,41,53,17,24,34,19,29,36,34,36,53,29,53,46,24,38,34,41,38,43,41,70,36,38,58,41,41,41,43,36,41,38,36,53,48,43,88,62,53,36,67,60,50,50],
  [11,14,12,9,10,6,14,11,18,10,10,5,12,15,6,10,13,10,14,13,14,8,14,9,14,20,7,5,8,6,10,15,20,6,9,13,7,11,14,13,14,20,11,20,17,9,14,13,15,14,16,15,26,14,14,22,15,15,15,16,14,15,14,14,20,18,16,30,23,20,14,25,23,19,16],
  [25,33,26,19,22,13,31,24,41,22,22,11,26,35,13,22,29,22,31,29,33,18,31,20,33,46,15,11,18,13,22,35,45,13,20,29,15,24,31,29,31,45,24,45,39,20,33,29,35,33,37,35,59,31,33,49,35,35,35,37,31,35,33,31,45,41,37,73,53,45,31,57,51,43,43],
  [27,36,28,21,24,14,34,26,45,24,24,12,28,38,14,24,31,24,34,31,36,19,34,22,36,50,17,12,19,14,24,38,49,14,22,31,17,26,34,31,34,49,26,49,42,22,36,31,38,36,40,38,64,34,36,54,38,38,38,40,34,38,36,34,49,44,40,80,58,49,34,62,55,46,46]
];

const tropicalNights = [
  [0,0.4,0,0,0,0,0.1,0,0.2,0,0,0,0,0.2,0,0,0.1,0,0,0,0,0,0,0,0,0.6,0,0,0,0,0,0.1,0.5,0,0,0,0,0,0.1,0,0.1,0.3,0,0.8,0.2,0,0,0,0,0,0.1,0,1.2,0,0,0.6,0,0,0,0.4,0,0.1,0.2,0,0.8,0.1,0.1,0.6,0.8,0.5,0,0.7,0.4,0.2,0.3],
  [0,0.2,0,0,0,0,0.1,0,0.1,0,0,0,0,0.1,0,0,0,0,0,0,0,0,0,0,0,0.3,0,0,0,0,0,0,0.3,0,0,0,0,0,0,0,0,0.2,0,0.5,0.1,0,0,0,0,0,0,0,0.7,0,0,0.3,0,0,0,0.3,0,0.1,0.1,0,0.5,0.1,0.1,0.4,0.5,0.3,0,0.4,0.3,0.1,0.2],
  [0,0.3,0,0,0,0,0.4,0,0.3,0,0,0,0,0.3,0,0,0.2,0,0.1,0,0,0,0,0,0,0.4,0,0,0,0,0,0.2,0.4,0,0,0,0.6,0,0,0,0,0.4,0,2.6,0.3,0,0.2,0,0,0,0,0.1,0.5,0,0,0.5,0,0,0,1.6,0,0,0.1,0.2,0.3,0.2,0.1,0.8,0.5,0.3,0,0.5,0.2,0.3,0.2],
  [0,0.3,0,0,0,0,0.5,0,0.3,0,0,0,0,0.3,0,0,0.2,0,0.2,0,0,0,0,0,0,0.5,0,0,0,0,0,0.2,0.4,0,0,0,0.9,0,0,0,0,0.5,0,3.2,0.4,0,0.3,0,0,0,0,0.1,0.6,0,0,0.6,0,0,0,2.1,0,0,0.2,0.3,0.4,0.2,0.1,1.0,0.6,0.4,0,0.6,0.3,0.3,0.4],
  [0,0.3,0,0,0,0,0.2,0,0.1,0,0,0,0,0.1,0,0,0.1,0,0,0,0,0,0,0,0,0.3,0,0,0,0,0,0.1,0.2,0,0,0,0.2,0,0,0,0,0.2,0,0.9,0.2,0,0.1,0,0,0,0,0,0.7,0,0,0.4,0,0,0,0.6,0,0,0.1,0.1,0.4,0.1,0.1,0.5,0.4,0.3,0,0.4,0.2,0.1,0.2],
  [0,0.3,0,0,0,0,0.2,0,0.1,0,0,0,0,0.2,0,0,0.1,0,0,0,0,0,0,0,0,0.4,0,0,0,0,0,0.1,0.3,0,0,0,0.2,0,0,0,0,0.2,0,1.0,0.2,0,0.1,0,0,0,0,0,0.9,0,0,0.5,0,0,0,1.8,0,0,0.1,0.2,0.6,0.1,0.1,0.5,0.6,0.4,0,0.6,0.3,0.1,0.3],
  [0,0.1,0,0,0,0,0.1,0,0,0,0,0,0,0,0,0,0,0,0,0,0,0,0,0,0,0.2,0,0,0,0,0,0,0.1,0,0,0,0.2,0,0,0,0,0.1,0,0.9,0.1,0,0.1,0,0,0,0,0,0.2,0,0,0.3,0,0,0,0.8,0,0,0.1,0.2,0.1,0.1,0,0.4,0.2,0.1,0,0.2,0.1,0.1,0.4],
  [0,0.1,0,0,0,0,0.1,0,0.1,0,0,0,0,0.1,0,0,0,0,0,0,0,0,0,0,0,0.2,0,0,0,0,0,0,0.2,0,0,0,0.1,0,0,0,0,0.1,0,0.6,0.1,0,0,0,0,0,0,0,0.4,0,0,0.3,0,0,0,0.4,0,0,0.1,0.1,0.2,0.1,0,0.3,0.3,0.2,0,0.3,0.1,0.1,0.2],
  [0,0.1,0,0,0,0,0.1,0,0.1,0,0,0,0,0.1,0,0,0,0,0,0,0,0,0,0,0,0.2,0,0,0,0,0,0,0.2,0,0,0,0.1,0,0,0,0,0.1,0,0.6,0.1,0,0,0,0,0,0,0,0.4,0,0,0.3,0,0,0,0.4,0,0,0.1,0.1,0.2,0.1,0,0.3,0.3,0.2,0,0.3,0.1,0.1,0.3],
  [0,0.3,0,0,0,0,0.1,0,0.1,0,0,0,0,0.2,0,0,0.1,0,0,0,0,0,0,0,0,0.4,0,0,0,0,0,0.1,0.3,0,0,0,0,0,0.1,0,0,0.2,0,0.5,0.3,0,0,0,0,0,0,0,0.8,0,0,0.6,0,0,0,0.3,0,0.1,0.1,0,0.7,0.1,0.1,0.5,0.7,0.4,0,0.6,0.3,0.1,0.3],
  [0,1.2,0,0,0,0,0.2,0,0.3,0,0,0,0,0.4,0,0,0.2,0,0,0,0,0,0,0,0,0.9,0,0,0,0,0,0.2,1.0,0,0,0,0.1,0,0.2,0.1,0.3,0.4,0,1.2,0.4,0,0.1,0,0,0,0.2,0,2.5,0,0,1.2,0,0,0,0.5,0,0.2,0.3,0,1.5,0.2,0.3,1.2,1.2,1.0,0,1.1,0.6,0.3,0.7],
  [0,3.6,0,0,0,0,0.3,0,0.5,0,0,0,0,0.6,0,0,0.9,0,0,0,0,0,0,0,0,2.2,0,0,0,0,0,0.3,2.4,0,0,0,0.2,0,0.3,0.2,1.7,0.6,0,1.5,0.6,0,0.2,0,0.9,0,0.3,0,6.2,0.2,0,3.0,0,0.2,0,0.8,0,0.4,0.4,0,3.6,0.3,0.4,3.0,2.8,2.8,0,1.9,0.9,0.4,1.8],
  [0,0.4,0,0,1.3,1.2,1.0,0,0.3,0,0,0,0,1.2,0,1.3,1.2,0,0.1,0,0,0,0,0,0,1.4,0,0,0,0,0,0.1,1.0,0,0,0,0.5,0,0,0,0,0.4,0,1.2,0.5,0,0.3,0,0,0,0,0.1,1.2,0,0,0.9,0,0,0,1.3,0,0.1,0.3,0.3,1.2,0.2,0.2,2.1,1.0,0.6,0,0.9,0.5,0.6,0.3],
  [0,0.4,0,0,0,0.2,0.6,0,0.3,0,0,0,0,0.3,0,0,0.3,0,0.1,0,0,0,0,0,0,0.6,0,0,0,0,0,0.2,0.4,0,0,0,0.6,0,0,0,0,0.4,0,2.4,0.4,0,0.2,0,0,0,0,0.1,0.8,0,0,0.6,0,0,0,1.2,0,0,0.2,0.2,0.6,0.2,0.1,1.4,0.6,0.4,0,0.6,0.3,0.3,0.3],
  [0,0,0,0,0,0,0,0,0,0,0,0,0,0,0,0,0,0,0,0,0,0,0,0,0,0.1,0,0,0,0,0,0,0.1,0,0,0,0,0,0,0,0,0,0,0.3,0,0,0,0,0,0,0,0,0.1,0,0,0.2,0,0,0,0.2,0,0,0,0.1,0,0,0,0.2,0.1,0.1,0,0.1,0,0,0.1],
  [0,1.0,0,0,0,0,0.7,0,0.2,0,0,0,0,0.3,0,0,0.2,0,0,0,0,0,0,0,0,0.6,0,0,0,0,0,0.1,0.5,0,0,0,0.5,0,0,0,0,0.3,0,2.8,0.3,0,0.1,0,0,0,0,0,1.3,0,0,0.7,0,0,0,1.5,0,0,0.2,0.1,0.9,0.1,0.1,2.2,0.8,0.5,0,0.8,0.4,0.2,0.3],
  [0,0.8,0,0,0,0,0.6,0,0.2,0,0,0,0,0.3,0,0,0.2,0,0,0,0,0,0,0,0,0.6,0,0,0,0,0,0.1,0.4,0,0,0,0.5,0,0,0,0,0.3,0,2.5,0.3,0,0.1,0,0,0,0,0,1.1,0,0,0.6,0,0,0,1.3,0,0,0.1,0.1,0.8,0.1,0.1,1.8,0.7,0.4,0,0.7,0.3,0.2,0.3]
];

const panelValues = [frostDays, hotDays, iceDays, precipGE10mmDays, precipGE20mmDays, summerDays, tropicalNights];

// layout of the facet grid (px)
const COL_LEFT = [103, 309.3, 515];
const ROW_TOP = [60, 268.3, 476.7];
const PANEL_W = 152;
const PANEL_H = 147.7;
const STRIP_H = 45;
const FONT = '"Liberation Sans", Arial, Helvetica, sans-serif';

// ggplot default hue palette: hcl(h, c = 100, l = 65)
function hclHex(h, c, l) {
  const rad = h * Math.PI / 180;
  const U = c * Math.cos(rad), V = c * Math.sin(rad);
  const Xn = 95.047, Yn = 100, Zn = 108.883;
  const den = Xn + 15 * Yn + 3 * Zn;
  const un = 4 * Xn / den, vn = 9 * Yn / den;
  const Y = Yn * Math.pow((l + 16) / 116, 3);
  const u = U / (13 * l) + un, v = V / (13 * l) + vn;
  const X = Y * 9 * u / (4 * v);
  const Z = Y * (12 - 3 * u - 20 * v) / (4 * v);
  const x = X / 100, y = Y / 100, z = Z / 100;
  const lin = [
    3.2404542 * x - 1.5371385 * y - 0.4985314 * z,
    -0.9692660 * x + 1.8760108 * y + 0.0415560 * z,
    0.0556434 * x - 0.2040259 * y + 1.0572252 * z
  ];
  return '#' + lin.map(ch => {
    let g = ch <= 0.0031308 ? 12.92 * ch : 1.055 * Math.pow(ch, 1 / 2.4) - 0.055;
    g = Math.min(1, Math.max(0, g));
    return Math.round(g * 255).toString(16).padStart(2, '0');
  }).join('');
}

const colors = regions.map((_, i) => hclHex(15 + 360 * i / regions.length, 100, 65));

const grids = [];
const xAxes = [];
const yAxes = [];
const extraXAxes = [];
const series = [];
const graphics = [];

const xLabelStyle = { fontSize: 23.5, color: '#4D4D4D', fontFamily: FONT, formatter: v => String(v) };

function gridLine(p, pts, width) {
  return {
    type: 'line', xAxisIndex: p, yAxisIndex: p, data: pts,
    symbol: 'none', showSymbol: false, silent: true, z: 1,
    lineStyle: { color: '#FFFFFF', width: width },
    emphasis: { disabled: true }
  };
}

panelNames.forEach((name, p) => {
  const left = COL_LEFT[p % 3];
  const top = ROW_TOP[Math.floor(p / 3)];
  const lim = yLimits[p];
  const showX = p >= 4;

  grids.push({
    left: left, top: top, width: PANEL_W, height: PANEL_H,
    show: true, backgroundColor: '#EBEBEB', borderWidth: 0,
    containLabel: false, outerBoundsMode: 'none'
  });

  // the year labels overlap each other (as in the facet layout); ECharts drops
  // overlapping labels on one axis, so they are split over two stacked axes
  xAxes.push({
    gridIndex: p, type: 'value', position: 'bottom', min: xLimits[0], max: xLimits[1],
    axisLine: { show: false, onZero: false },
    splitLine: { show: false },
    axisTick: { show: showX, customValues: xMajor, length: 5, lineStyle: { color: '#333333', width: 2.4 } },
    axisLabel: Object.assign({
      show: showX, customValues: xMajor.filter((_, i) => i % 2 === 0), margin: 9,
      hideOverlap: false, showMinLabel: true, showMaxLabel: true
    }, xLabelStyle)
  });
  if (showX) {
    extraXAxes.push({
      gridIndex: p, type: 'value', position: 'bottom', offset: 0, min: xLimits[0], max: xLimits[1],
      axisLine: { show: false, onZero: false },
      splitLine: { show: false },
      axisTick: { show: false },
      axisLabel: Object.assign({
        show: true, customValues: xMajor.filter((_, i) => i % 2 === 1), margin: 9,
        hideOverlap: false, showMinLabel: true, showMaxLabel: true
      }, xLabelStyle)
    });
  }

  yAxes.push({
    gridIndex: p, type: 'value', min: lim[0], max: lim[1],
    axisLine: { show: false, onZero: false },
    splitLine: { show: false },
    axisTick: { customValues: yMajor[p], length: 4.5, lineStyle: { color: '#333333', width: 2.4 } },
    axisLabel: {
      customValues: yMajor[p], margin: 6, hideOverlap: false,
      showMinLabel: true, showMaxLabel: true,
      padding: [3, 0, 0, 0],
      fontSize: 23.5, color: '#4D4D4D', fontFamily: FONT,
      formatter: v => String(v)
    }
  });

  // panel grid lines (white, drawn under the data)
  xMinor.forEach(x => series.push(gridLine(p, [[x, lim[0]], [x, lim[1]]], 1.5)));
  yMinor[p].forEach(y => series.push(gridLine(p, [[xLimits[0], y], [xLimits[1], y]], 1.5)));
  xMajor.forEach(x => series.push(gridLine(p, [[x, lim[0]], [x, lim[1]]], 3)));
  yMajor[p].forEach(y => series.push(gridLine(p, [[xLimits[0], y], [xLimits[1], y]], 3)));

  regions.forEach((region, k) => {
    series.push({
      name: region, type: 'line', xAxisIndex: p, yAxisIndex: p,
      data: years.map((yr, i) => [yr, panelValues[p][k][i]]),
      symbol: 'none', showSymbol: false, silent: true, z: 2,
      lineStyle: { color: colors[k], width: 3, join: 'round' },
      itemStyle: { color: colors[k] },
      emphasis: { disabled: true }
    });
  });

  // facet strip
  graphics.push({
    type: 'rect', z: 10, silent: true,
    shape: { x: left, y: top - STRIP_H, width: PANEL_W, height: STRIP_H },
    style: { fill: '#D9D9D9' }
  });
  graphics.push({
    type: 'text', z: 11, silent: true,
    x: left + PANEL_W / 2, y: top - STRIP_H / 2 + 1.5,
    style: {
      text: name, fill: '#1A1A1A', fontSize: 23.5, fontFamily: FONT,
      align: 'center', verticalAlign: 'middle', textAlign: 'center', textVerticalAlign: 'middle'
    }
  });
});

// strip text is clipped at the strip edges, as in the facet layout
const stripCovers = [
  [1, 50, 103], [1, 255, 309.3], [1, 461, 515],
  [2, 50, 103], [2, 255, 280]
];
stripCovers.forEach(([row, x0, x1]) => {
  graphics.push({
    type: 'rect', z: 12, silent: true,
    shape: { x: x0, y: ROW_TOP[row] - STRIP_H + 3, width: x1 - x0, height: STRIP_H - 6 },
    style: { fill: '#FFFFFF' }
  });
});

// axis titles
graphics.push({
  type: 'text', z: 11, silent: true, x: 385, y: 682,
  style: { text: 'Jahr', fill: '#000000', fontSize: 28.5, fontFamily: FONT,
    align: 'center', verticalAlign: 'middle', textAlign: 'center', textVerticalAlign: 'middle' }
});
graphics.push({
  type: 'text', z: 11, silent: true, x: 29, y: 342, rotation: Math.PI / 2,
  style: { text: 'Anzahl Tage', fill: '#000000', fontSize: 28.5, fontFamily: FONT,
    align: 'center', verticalAlign: 'middle', textAlign: 'center', textVerticalAlign: 'middle' }
});

// legend (taller than the figure, so it runs off the top and bottom)
const LEG_X = 711, LEG_W = 45.7, LEG_STEP = 46, LEG_FIRST = -4.3;
graphics.push({
  type: 'rect', z: 10, silent: true,
  shape: { x: LEG_X, y: LEG_FIRST - LEG_STEP / 2, width: LEG_W, height: LEG_STEP * regions.length },
  style: { fill: '#EBEBEB' }
});
regions.forEach((region, k) => {
  const cy = LEG_FIRST + LEG_STEP * k;
  graphics.push({
    type: 'line', z: 11, silent: true,
    shape: { x1: LEG_X + 4.7, y1: cy, x2: LEG_X + 41.3, y2: cy },
    style: { stroke: colors[k], lineWidth: 3 }
  });
  graphics.push({
    type: 'text', z: 11, silent: true, x: 772, y: cy + 1.8,
    style: { text: region, fill: '#000000', fontSize: 23.5, fontFamily: FONT,
      align: 'left', verticalAlign: 'middle', textAlign: 'left', textVerticalAlign: 'middle' }
  });
});

const chart = echarts.init(document.getElementById('chart'), null, { renderer: 'canvas' });
chart.setOption({
  animation: false,
  backgroundColor: '#FFFFFF',
  grid: grids,
  xAxis: xAxes.concat(extraXAxes),
  yAxis: yAxes,
  series: series,
  graphic: graphics
});
</script>
</body>
</html>
